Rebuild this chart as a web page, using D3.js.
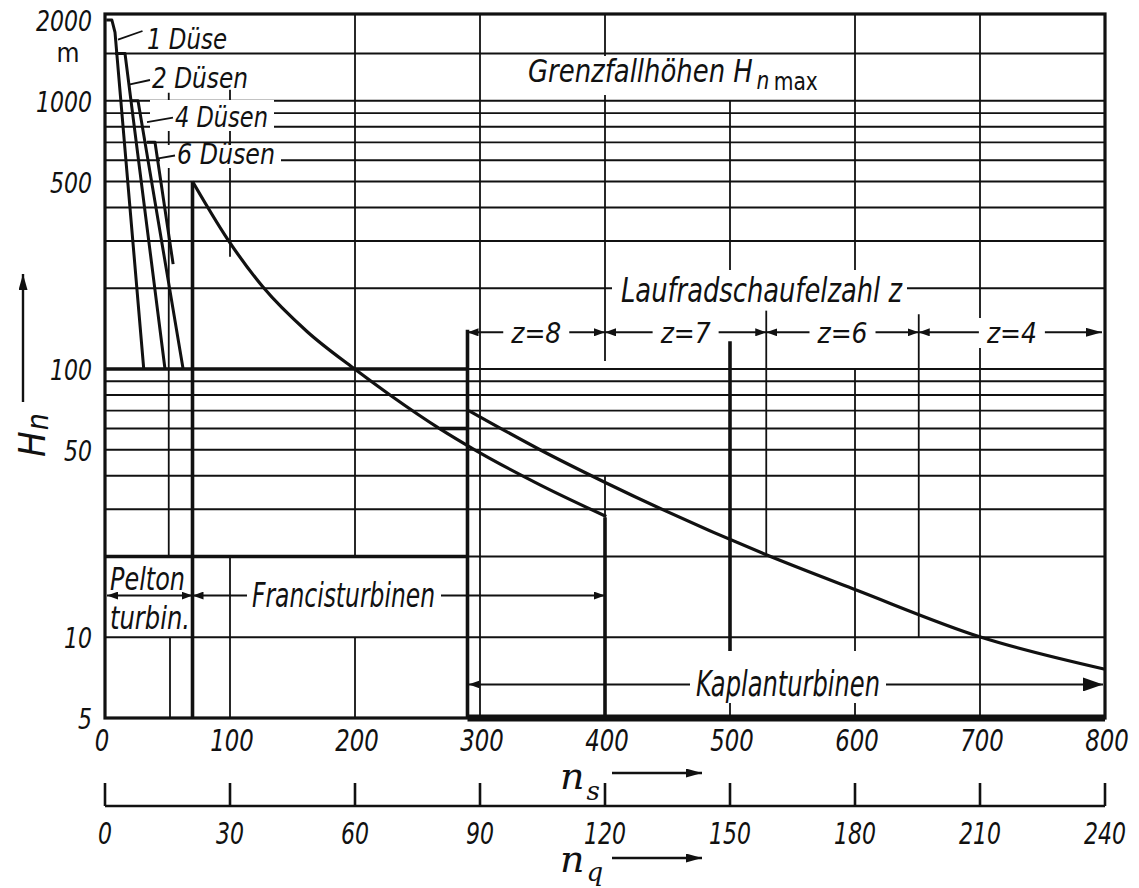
<!DOCTYPE html>
<html>
<head>
<meta charset="utf-8">
<title>Grenzfallhöhen Hn max</title>
<script src="https://cdn.jsdelivr.net/npm/d3@7/dist/d3.min.js"></script>
<style>
  body { margin: 0; background: #fff; }
  #chart text { font-family: "DejaVu Sans Condensed", "DejaVu Sans", sans-serif; font-style: italic; fill: #111; }
</style>
</head>
<body>
<div id="chart"></div>
<script>
// --- Werte ---
const hGrid = [10, 20, 30, 40, 50, 60, 70, 80, 90, 100, 200, 300, 400, 500, 600, 700, 800, 900, 1000, 1500];
const hTicks = [5, 10, 50, 100, 500, 1000, 2000];
const nsTicks = [0, 100, 200, 300, 400, 500, 600, 700, 800];
const nqTicks = [0, 30, 60, 90, 120, 150, 180, 210, 240];

// Pelton: Grenzlinien je Düsenzahl, Punkte [ns, H]
const nozzleNames = ["1 Düse", "2 Düsen", "4 Düsen", "6 Düsen"];
const nozzle1 = [[1, 2000], [5.5, 2000], [8, 1800], [31, 100]];
const nozzle2 = [[8, 1500], [16, 1500], [48, 100]];
const nozzle4 = [[20, 1000], [26.4, 1000], [62.5, 100]];
const nozzle6 = [[33.6, 700], [40, 700], [54.5, 246]];

// Grenzfallhöhen Francis / Kaplan [ns, H]
const francisLimit = [[70, 500], [97.6, 307], [126.4, 202], [161.6, 138], [198.4, 101], [228, 80],
  [268, 59.8], [294.4, 50.4], [348, 37], [401, 28.2]];
const kaplanLimit = [[291, 70], [348, 50], [401, 37.6], [529, 20.3], [601, 15], [701, 10], [800, 7.6]];

// Laufradschaufelzahl z: Bereichsgrenzen in ns
const zBounds = [290, 400, 529, 651, 800];
const zLabels = ["z=8", "z=7", "z=6", "z=4"];

// Teilstücke der senkrechten Netzlinien [ns, H von, H bis] (Infinity = oberer Rand)
const vThin = [
  [51, 1070, 20], [52, 10, 5],
  [100, 1100, 262], [100, 20, 5],
  [200, Infinity, 20], [200, 10, 5],
  [300, Infinity, 5],
  [400, Infinity, 107], [400, 40, 28],
  [500, 1000, 200], [500, 8.7, 5],
  [529, 165, 20],
  [600, Infinity, 200], [600, 100, 5],
  [651, 160, 10],
  [700, Infinity, 5]
];
const vThick = [[70, 500, 5], [290, 140, 5], [400, 28, 5], [500, 127, 8.7]];
const hThick = [[100, 0, 290], [20, 0, 290], [60, 268, 290]];

// --- Skalen ---
const svg = d3.select("#chart").append("svg").attr("width", 1139).attr("height", 888);
const xs = d3.scaleLinear().domain([0, 800]).range([105, 1105]);
const xq = d3.scaleLinear().domain([0, 240]).range([105, 1105]);
const ys = d3.scaleLog().domain([5, 2000]).range([718, 20]);
const yTop = 14;
const yy = h => (h === Infinity ? yTop : ys(h));
const ink = "#111";

// Pfeilspitzen
const defs = svg.append("defs");
function marker(id, w, h) {
  defs.append("marker").attr("id", id)
    .attr("viewBox", `0 0 ${w} ${h}`).attr("refX", w).attr("refY", h / 2)
    .attr("markerWidth", w).attr("markerHeight", h)
    .attr("markerUnits", "userSpaceOnUse").attr("orient", "auto-start-reverse")
    .append("path").attr("d", `M0,0L${w},${h / 2}L0,${h}Z`).attr("fill", ink);
}
marker("a", 11, 8);
marker("mid", 16, 9);
marker("big", 20, 14);

// 1. Netz
const grid = svg.append("g").attr("stroke", ink).attr("stroke-width", 1.8);
grid.selectAll(".hg").data(hGrid).join("line")
  .attr("x1", xs(0)).attr("x2", xs(800))
  .attr("y1", d => ys(d)).attr("y2", d => ys(d));
grid.selectAll(".vg").data(vThin).join("line")
  .attr("x1", d => xs(d[0])).attr("x2", d => xs(d[0]))
  .attr("y1", d => yy(d[1])).attr("y2", d => yy(d[2]));

// dicke Linien (Bereichsgrenzen)
const thick = svg.append("g").attr("stroke", ink).attr("stroke-width", 3.6);
thick.selectAll(".vt").data(vThick).join("line")
  .attr("x1", d => xs(d[0])).attr("x2", d => xs(d[0]))
  .attr("y1", d => ys(d[1])).attr("y2", d => ys(d[2]));
thick.selectAll(".ht").data(hThick).join("line")
  .attr("x1", d => xs(d[1])).attr("x2", d => xs(d[2]))
  .attr("y1", d => ys(d[0])).attr("y2", d => ys(d[0]));
svg.append("line").attr("x1", xs(290)).attr("x2", xs(800)).attr("y1", ys(5)).attr("y2", ys(5))
  .attr("stroke", ink).attr("stroke-width", 7);

// Rahmen
svg.append("rect").attr("x", xs(0)).attr("y", yTop)
  .attr("width", xs(800) - xs(0)).attr("height", ys(5) - yTop)
  .attr("fill", "none").attr("stroke", ink).attr("stroke-width", 3.2);

// 2. Bemaßungspfeile
function arrow(x1, y1, x2, y2, m1, m2, w = 2) {
  const l = svg.append("line").attr("x1", x1).attr("y1", y1).attr("x2", x2).attr("y2", y2)
    .attr("stroke", ink).attr("stroke-width", w);
  if (m1) l.attr("marker-start", `url(#${m1})`);
  if (m2) l.attr("marker-end", `url(#${m2})`);
}
const hTurb = 14.3, hKap = 6.67, hZ = 137;
arrow(xs(0) + 2, ys(hTurb), xs(70), ys(hTurb), "a", "a");
arrow(xs(70), ys(hTurb), xs(400), ys(hTurb), "a", "a");
arrow(xs(291), ys(hKap), xs(800) - 2, ys(hKap), "a", "big");
zLabels.forEach((z, i) => {
  arrow(xs(zBounds[i]), ys(hZ), xs(zBounds[i + 1]) - (i === 3 ? 3 : 0), ys(hZ), "a", i === 3 ? "mid" : "a");
});

// 3. Freistellung hinter Beschriftungen
const knock = [
  [143, 22, 88, 28], [150, 59, 103, 30], [150, 100, 124, 31], [160, 145, 121, 23],
  [523, 56, 303, 39], [612, 270, 295, 36], [247, 578, 194, 36], [690, 651, 196, 52]
];
zLabels.forEach((z, i) => {
  const cx = (xs(zBounds[i]) + xs(zBounds[i + 1])) / 2;
  knock.push([cx - 33, 318, 66, 30]);
});
svg.append("g").selectAll("rect").data(knock).join("rect")
  .attr("x", d => d[0]).attr("y", d => d[1]).attr("width", d => d[2]).attr("height", d => d[3])
  .attr("fill", "#fff");

// 4. Kurven
const straight = d3.line().x(d => xs(d[0])).y(d => ys(d[1]));
const smooth = d3.line().x(d => xs(d[0])).y(d => ys(d[1])).curve(d3.curveMonotoneX);
svg.append("g").attr("fill", "none").attr("stroke", ink).attr("stroke-width", 3)
  .attr("stroke-linejoin", "round")
  .selectAll("path").data([nozzle1, nozzle2, nozzle4, nozzle6]).join("path")
  .attr("d", straight);
svg.append("path").datum(francisLimit).attr("d", smooth)
  .attr("fill", "none").attr("stroke", ink).attr("stroke-width", 3.2);
svg.append("path").datum(kaplanLimit).attr("d", smooth)
  .attr("fill", "none").attr("stroke", ink).attr("stroke-width", 3.2);

// Hinweislinien zu den Düsen-Beschriftungen [ns, H]
const leaders = [
  [[10.4, 1690], [30, 1820]], [[20, 1150], [36, 1195]],
  [[33.6, 833], [54.4, 865]], [[41.6, 609], [56, 625]]
];
svg.append("g").attr("stroke", ink).attr("stroke-width", 1.8).attr("fill", "none")
  .selectAll("path").data(leaders).join("path").attr("d", straight);

// 5. Texte
function label(str, x, y, size, len, anchor = "start", style = "italic") {
  const t = svg.append("text").attr("x", x).attr("y", y).attr("font-size", size)
    .attr("text-anchor", anchor).style("font-style", style).text(str);
  if (len) t.attr("textLength", len).attr("lengthAdjust", "spacingAndGlyphs");
  return t;
}

const dueseX = [147, 152, 175, 177], dueseY = [49, 88, 127, 164], dueseW = [80, 96, 93, 98];
nozzleNames.forEach((s, i) => label(s, dueseX[i], dueseY[i], 29, dueseW[i]));

// Titel: schmal gestellt über eine Skalierung statt textLength
const title = svg.append("g").attr("transform", "translate(528,82) scale(0.9,1)")
  .append("text").attr("x", 0).attr("y", 0).attr("font-size", 32);
title.append("tspan").text("Grenzfallhöhen H");
title.append("tspan").text("n").attr("font-size", 25).attr("dy", 7).attr("dx", 4);
title.append("tspan").text("max").attr("font-size", 25).style("font-style", "normal").attr("dy", 1).attr("dx", 5);

label("Laufradschaufelzahl z", 621, 302, 34, 281);
zLabels.forEach((z, i) => {
  const cx = (xs(zBounds[i]) + xs(zBounds[i + 1])) / 2;
  label(z, cx, 343, 28, 50, "middle");
});

label("Pelton", 110, 590, 32, 75);
label("turbin.", 110, 629, 32, 80);
label("Francisturbinen", 252, 607, 34, 183);
label("Kaplanturbinen", 696, 696, 36, 184);

// Achsbeschriftung H
hTicks.forEach(v => label(String(v), 92, ys(v) + 11, 28, 14 * String(v).length, "end"));
label("m", 68, 62, 26, 23, "middle", "normal");
const hn = svg.append("g").attr("transform", "translate(45,457) rotate(-90)");
const hnText = hn.append("text").attr("font-size", 38).attr("x", 0).attr("y", 0);
hnText.append("tspan").text("H");
hnText.append("tspan").text("n").attr("font-size", 30).attr("dy", 3).attr("dx", 1);
arrow(23, 402, 23, 274, null, "mid", 2.4);

// ns-Achse
nsTicks.forEach(v => label(String(v), xs(v) + (v === 0 ? -3 : 2), 751, 31, 14.5 * String(v).length, "middle"));
const nsLab = svg.append("text").attr("x", 560).attr("y", 789).attr("font-size", 38)
  .style("font-family", "'DejaVu Serif', serif");
nsLab.append("tspan").text("n");
nsLab.append("tspan").text("s").attr("font-size", 26).attr("dy", 11).attr("dx", 2);
arrow(612, 773, 702, 773, null, "mid", 2.4);

// nq-Achse
const qAxis = svg.append("g").attr("stroke", ink).attr("stroke-width", 2.6);
qAxis.append("line").attr("x1", xq(0)).attr("x2", xq(240)).attr("y1", 806).attr("y2", 806);
qAxis.selectAll(".qt").data(nqTicks).join("line")
  .attr("x1", d => xq(d)).attr("x2", d => xq(d)).attr("y1", 806).attr("y2", 783);
nqTicks.forEach(v => label(String(v), xq(v), 844, 31, 14 * String(v).length, "middle"));
const nqLab = svg.append("text").attr("x", 560).attr("y", 872).attr("font-size", 38)
  .style("font-family", "'DejaVu Serif', serif");
nqLab.append("tspan").text("n");
nqLab.append("tspan").text("q").attr("font-size", 26).attr("dy", 9).attr("dx", 2);
arrow(612, 858, 702, 858, null, "mid", 2.4);
</script>
</body>
</html>
